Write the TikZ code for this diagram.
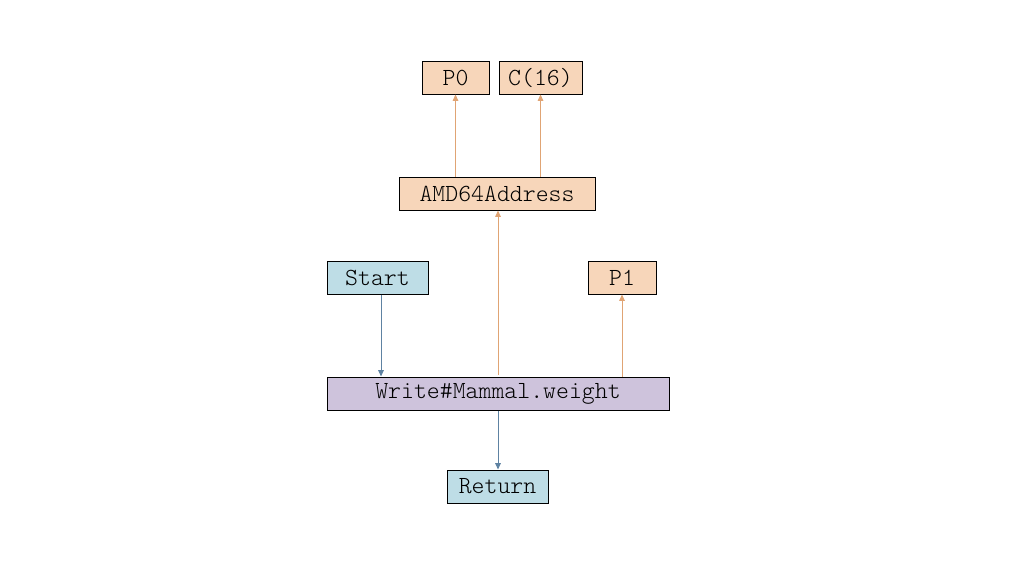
\documentclass[tikz,border=0pt]{standalone}
\usepackage{fontspec}
\setmonofont{Latin Modern Mono Light}
\usetikzlibrary{arrows.meta,positioning}
\definecolor{nodepeach}{HTML}{F7D6BA}
\definecolor{nodeblue}{HTML}{BEDDE6}
\definecolor{nodepurple}{HTML}{CEC3DC}
\definecolor{edgepeach}{HTML}{E0A474}
\definecolor{edgeblue}{HTML}{5E82A2}

\begin{document}
\begin{tikzpicture}[
  x=0.5pt, y=-0.5pt,
  >={Triangle[length=3.2pt,width=2.8pt]},
  box/.style={draw, line width=0.5pt, minimum height=16.5pt, inner sep=0pt, font=\fontsize{12.3}{13}\selectfont\ttfamily},
  dataflow/.style={->, draw=edgepeach, line width=0.5pt},
  ctrlflow/.style={->, draw=edgeblue, line width=0.5pt},
]
  \useasboundingbox (0,0) rectangle (1036,568);

  \node[box, fill=nodepeach, minimum width=33.5pt] (p0) at (455.5,77.5) {P0};
  \node[box, fill=nodepeach, minimum width=41.5pt] (c16) at (540.5,77.5) {C(16)};
  \node[box, fill=nodepeach, minimum width=98pt] (amd) at (497,193.5) {AMD64Address};
  \node[box, fill=nodeblue, minimum width=50.5pt] (start) at (377.5,277.5) {Start};
  \node[box, fill=nodepeach, minimum width=34pt] (p1) at (622,277.5) {P1};
  \node[box, fill=nodepurple, minimum width=171pt] (write) at (498,393.5) {Write\#Mammal.weight};
  \node[box, fill=nodeblue, minimum width=50.5pt] (ret) at (497.5,486.5) {Return};

  % inputs
  \draw[dataflow] (p0.south |- amd.north) -- (p0.south);
  \draw[dataflow] (c16.south |- amd.north) -- (c16.south);
  \draw[dataflow] ([yshift=1pt]write.north) -- (write.north |- amd.south);
  \draw[dataflow] (p1.south |- write.north) -- (p1.south);

  % control
  \draw[ctrlflow] ([xshift=1.75pt]start.south) -- ([xshift=1.75pt]start.south |- write.north);
  \draw[ctrlflow] (write.south) -- (write.south |- ret.north);
\end{tikzpicture}
\end{document}
